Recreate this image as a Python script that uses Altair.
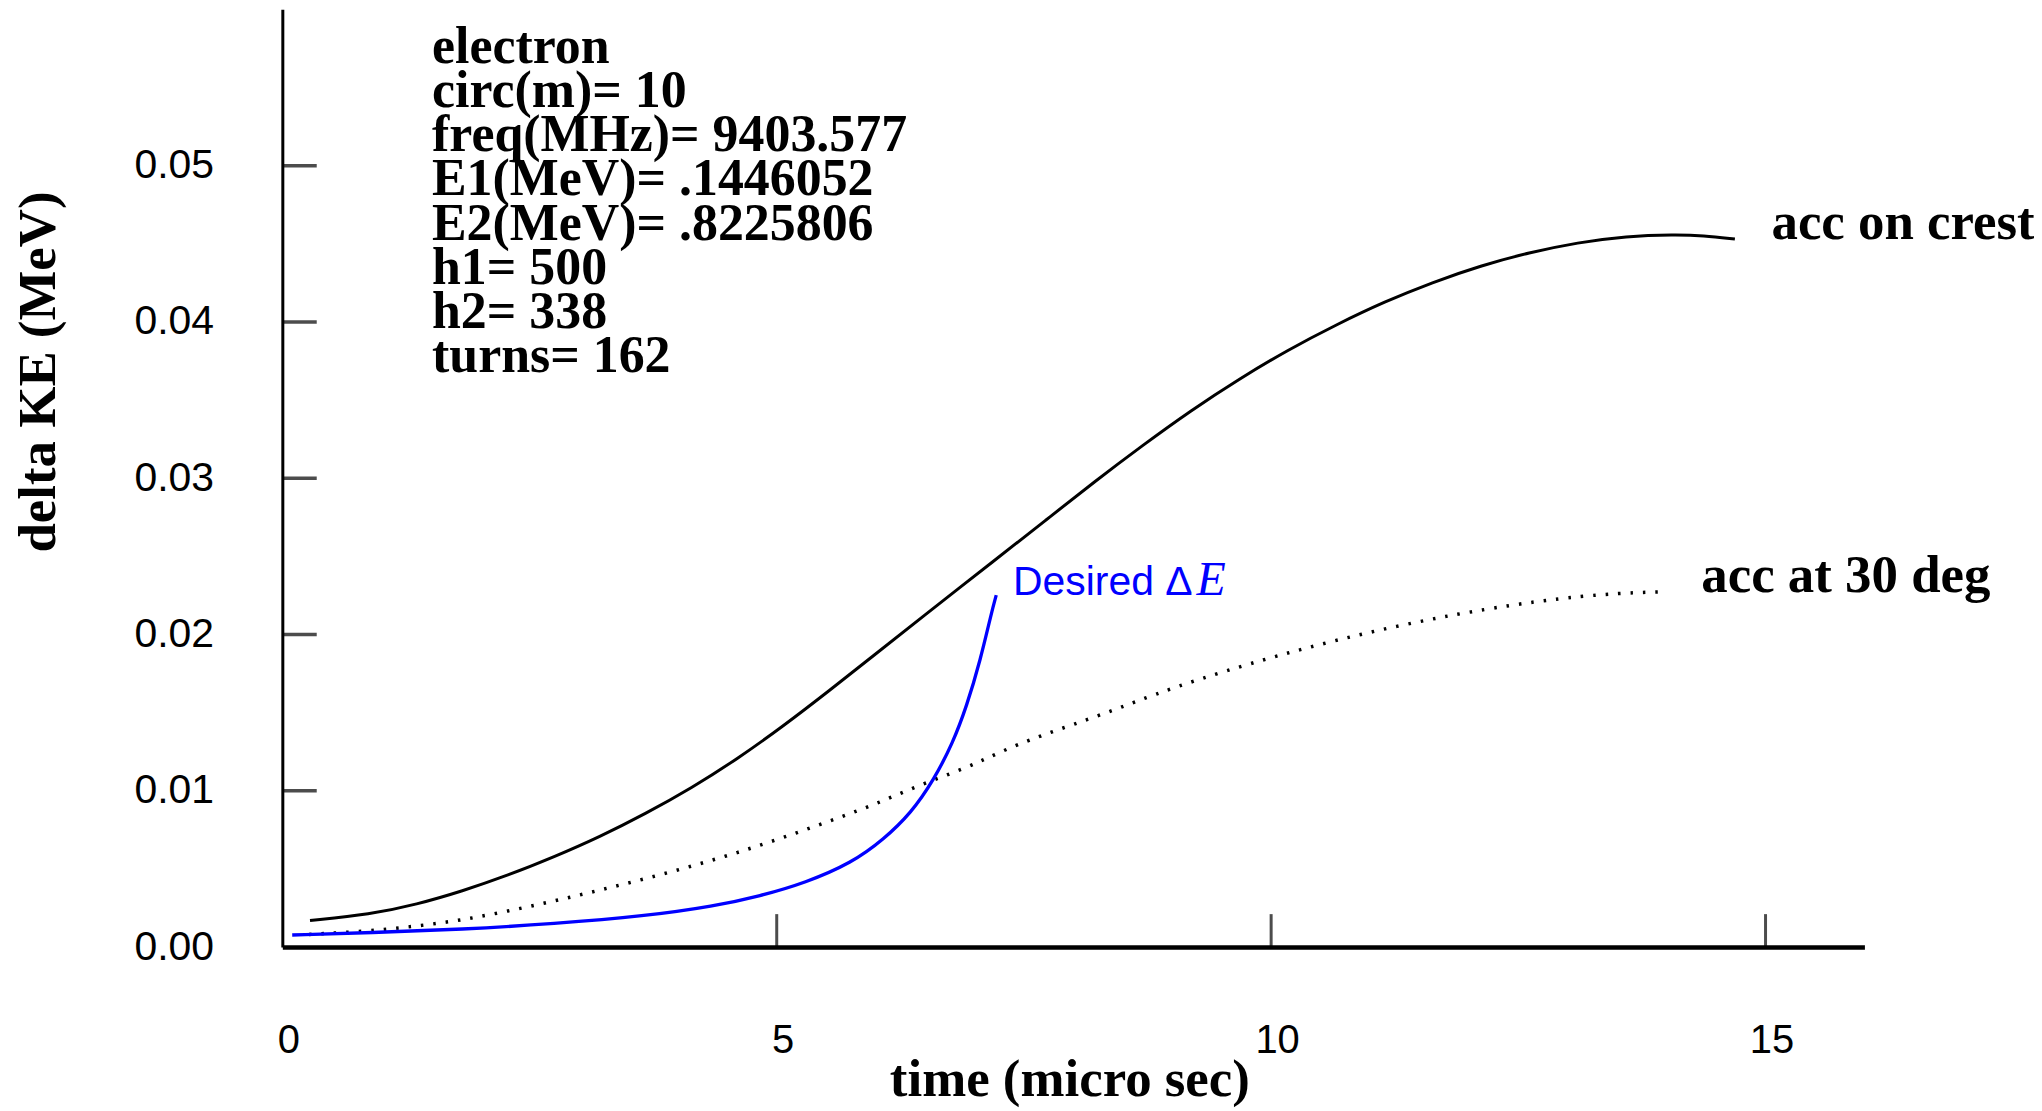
import altair as alt
import pandas as pd

# ---- data ----
crest_t = [0.28, 0.89, 1.36, 1.82, 2.28, 2.75, 3.21, 3.67, 4.14, 4.60, 5.06, 5.53, 5.99,
           6.45, 7.23, 7.72, 8.21, 8.70, 9.19, 9.68, 10.17, 10.66, 11.15, 11.63,
           12.12, 12.61, 13.10, 13.59, 14.08, 14.37, 14.69]
crest_e = [0.00170, 0.00209, 0.00273, 0.00358, 0.00458, 0.00577, 0.00705, 0.00852, 0.01018,
           0.01203, 0.01411, 0.01640, 0.01870, 0.02102, 0.02487, 0.02731, 0.02976,
           0.03210, 0.03434, 0.03636, 0.03821, 0.03983, 0.04130, 0.04253, 0.04360, 0.04444,
           0.04508, 0.04549, 0.04559, 0.04553, 0.04530]

deg30_t = [0.27, 0.89, 1.36, 1.82, 2.28, 2.75, 3.21, 3.67, 4.14, 4.60, 5.06, 5.53, 5.99,
           6.45, 6.92, 7.23, 7.65, 8.31, 8.97, 10.06, 11.27, 12.48, 13.38, 13.99]
deg30_e = [0.00081, 0.00102, 0.00134, 0.00172, 0.0023, 0.00294, 0.00364, 0.00437, 0.00517,
           0.00603, 0.00699, 0.00805, 0.00911, 0.01039, 0.01146, 0.01241, 0.0135, 0.0149,
           0.01656, 0.01869, 0.02061, 0.02199, 0.02263, 0.02273]

desired_t = [0.10, 0.89, 1.82, 2.75, 3.67, 4.37, 4.83, 5.29, 5.76, 6.08, 6.36, 6.59, 6.78,
             6.92, 7.06, 7.17, 7.22]
desired_e = [0.00077, 0.00092, 0.00113, 0.00149, 0.00198, 0.00262, 0.00326, 0.00411, 0.00539,
             0.00688, 0.00858, 0.01071, 0.01305, 0.01539, 0.01837, 0.02135, 0.02252]

x_ticks = [5, 10, 15]
y_ticks = [0.01, 0.02, 0.03, 0.04, 0.05]
x_labels = [0, 5, 10, 15]
y_labels = [0.0, 0.01, 0.02, 0.03, 0.04, 0.05]

info_lines = ["electron", "circ(m)= 10", "freq(MHz)= 9403.577", "E1(MeV)= .1446052",
              "E2(MeV)= .8225806", "h1= 500", "h2= 338", "turns= 162"]
info_pos = (1.514, 0.05658)

crest_label = ("acc on crest", 15.06, 0.0453)
deg30_label = ("acc at 30 deg", 14.35, 0.02273)
desired_label = ("Desired \u0394", "E", 7.39, 0.02252)

SERIF = "Liberation Serif"
SANS = "Liberation Sans"

xs = alt.Scale(domain=[0, 16], nice=False, zero=False)
ys = alt.Scale(domain=[0, 0.06], nice=False, zero=False)

xaxis = alt.Axis(values=x_labels, format="d", title="time (micro sec)", grid=False,
                 ticks=False, tickSize=0, domainWidth=4.5, domainColor="black",
                 labelFont=SANS, labelFontSize=40, labelColor="black", labelFlush=False,
                 labelBaseline="middle", labelPadding=94, labelOffset=6,
                 titleFont=SERIF, titleFontWeight="bold", titleFontSize=53,
                 titleColor="black", titleY=149, titleX=789, titleBaseline="alphabetic",
                 titleAlign="center")
yaxis = alt.Axis(values=y_labels, format=".2f", title="delta KE (MeV)", grid=False,
                 ticks=False, tickSize=0, domainWidth=3, domainColor="black",
                 labelFont=SANS, labelFontSize=41, labelColor="black",
                 labelBaseline="middle", labelAlign="right", labelPadding=69,
                 titleFont=SERIF, titleFontWeight="bold", titleFontSize=53,
                 titleColor="black", titleAngle=270, titleX=-244, titleY=363,
                 titleAlign="center", titleBaseline="middle")

df_crest = pd.DataFrame({"t": crest_t, "e": crest_e})
df_30 = pd.DataFrame({"t": deg30_t, "e": deg30_e})
df_des = pd.DataFrame({"t": desired_t, "e": desired_e})

base_axes = alt.Chart(df_crest).mark_line(color="black", strokeWidth=3,
                                          interpolate="basis").encode(
    x=alt.X("t:Q", scale=xs, axis=xaxis),
    y=alt.Y("e:Q", scale=ys, axis=yaxis),
)

dotted = alt.Chart(df_30).mark_line(color="black", strokeWidth=3.5, strokeDash=[2.5, 10],
                                    interpolate="basis").encode(
    x=alt.X("t:Q", scale=xs), y=alt.Y("e:Q", scale=ys))

blue = alt.Chart(df_des).mark_line(color="#0000ff", strokeWidth=3.3,
                                   interpolate="basis").encode(
    x=alt.X("t:Q", scale=xs), y=alt.Y("e:Q", scale=ys))

xt = alt.Chart(pd.DataFrame({"t": x_ticks})).mark_tick(
    orient="vertical", size=33, thickness=3, color="black", yOffset=-16.5).encode(
    x=alt.X("t:Q", scale=xs), y=alt.datum(0, scale=ys))

yt = alt.Chart(pd.DataFrame({"e": y_ticks})).mark_tick(
    orient="horizontal", size=33, thickness=3.5, color="black", xOffset=18).encode(
    y=alt.Y("e:Q", scale=ys), x=alt.datum(0, scale=xs))

info = alt.Chart(pd.DataFrame({"a": [0]})).mark_text(
    align="left", baseline="alphabetic", font=SERIF, fontWeight="bold", fontSize=52,
    lineHeight=44.3, color="black").encode(
    x=alt.datum(info_pos[0]), y=alt.datum(info_pos[1]), text=alt.value(info_lines))

lab_df = pd.DataFrame({"txt": [crest_label[0], deg30_label[0]],
                       "t": [crest_label[1], deg30_label[1]],
                       "e": [crest_label[2], deg30_label[2]]})
labels = alt.Chart(lab_df).mark_text(
    align="left", baseline="alphabetic", font=SERIF, fontWeight="bold", fontSize=53,
    color="black").encode(x=alt.X("t:Q", scale=xs), y=alt.Y("e:Q", scale=ys), text="txt:N")

des_df = pd.DataFrame({"txt": [desired_label[0]], "t": [desired_label[2]],
                       "e": [desired_label[3]]})
des_text = alt.Chart(des_df).mark_text(
    align="left", baseline="alphabetic", font=SANS, fontSize=41, color="#0000ff").encode(
    x=alt.X("t:Q", scale=xs), y=alt.Y("e:Q", scale=ys), text="txt:N")

des_e_df = pd.DataFrame({"txt": [desired_label[1]], "t": [desired_label[2]],
                         "e": [desired_label[3]]})
des_e = alt.Chart(des_e_df).mark_text(
    align="left", baseline="alphabetic", font=SERIF, fontStyle="italic", fontSize=48,
    color="#0000ff", dx=184).encode(
    x=alt.X("t:Q", scale=xs), y=alt.Y("e:Q", scale=ys), text="txt:N")

chart = alt.layer(base_axes, dotted, blue, xt, yt, info, labels, des_text, des_e).properties(
    width=1586, height=940,
    autosize=alt.AutoSizeParams(type="none"),
    padding={"left": 275, "top": 0, "right": 170, "bottom": 163},
    background="white",
).configure_view(stroke=None)

chart.save("out.html", embed_options={"renderer": "svg", "actions": False})
